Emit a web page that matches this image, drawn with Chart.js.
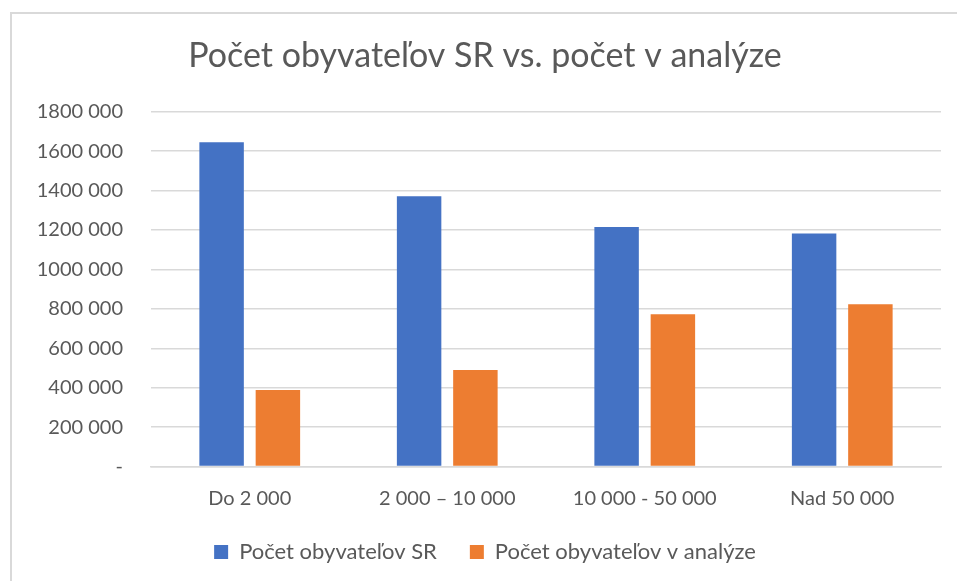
<!DOCTYPE html>
<html>
<head>
<meta charset="utf-8">
<script src="https://cdn.jsdelivr.net/npm/chart.js@4"></script>
<style>
    html, body { margin: 0; padding: 0; background: #fff; overflow: hidden; }
    #box {
        position: absolute; left: 10px; top: 12px; width: 960px; height: 580px;
        border-left: 2px solid #d9d9d9; border-top: 2px solid #d9d9d9;
    }
    #wrap { position: absolute; left: 0; top: 0; width: 945px; height: 567px; }
</style>
</head>
<body>
<div id="box"><div id="wrap"><canvas id="chart"></canvas></div></div>
<script>
const categories = ["Do 2 000", "2 000 – 10 000", "10 000 - 50 000", "Nad 50 000"];
const seriesNames = ["Počet obyvateľov SR", "Počet obyvateľov v analýze"];
const populationSR = [1646000, 1372000, 1216000, 1182000];
const populationAnalysis = [388000, 490000, 773000, 823000];
const yTicks = [0, 200000, 400000, 600000, 800000, 1000000, 1200000, 1400000, 1600000, 1800000];
const yTickLabels = ["-", "200 000", "400 000", "600 000", "800 000", "1000 000", "1200 000", "1400 000", "1600 000", "1800 000"];

const font = "Lato, 'Open Sans', sans-serif";
const grey = "#595959";

document.addEventListener("DOMContentLoaded", () => {
    const ctx = document.getElementById("chart").getContext("2d");

    new Chart(ctx, {
        type: "bar",
        data: {
            labels: categories,
            datasets: [{
                label: seriesNames[0],
                data: populationSR,
                backgroundColor: "#4472c4",
                categoryPercentage: 0.57,
                barPercentage: 0.79
            }, {
                label: seriesNames[1],
                data: populationAnalysis,
                backgroundColor: "#ed7d31",
                categoryPercentage: 0.57,
                barPercentage: 0.79
            }]
        },
        options: {
            responsive: true,
            maintainAspectRatio: false,
            animation: false,
            layout: { padding: { left: 17, right: 16, top: 12, bottom: 8 } },
            scales: {
                x: {
                    grid: { display: false },
                    border: { color: "#d9d9d9", width: 1.5 },
                    ticks: { color: grey, font: { family: font, size: 20 }, padding: 12 },
                    afterFit: axis => { axis.height -= 14.5; }
                },
                y: {
                    min: 0,
                    max: 1800000,
                    afterBuildTicks: axis => { axis.ticks = yTicks.map(v => ({ value: v })); },
                    afterFit: axis => { axis.width = 122; },
                    grid: { color: "#d9d9d9", lineWidth: 1.5, drawTicks: false },
                    border: { display: false },
                    ticks: {
                        color: grey,
                        font: { family: font, size: 20 },
                        padding: 28,
                        callback: value => yTickLabels[yTicks.indexOf(value)]
                    }
                }
            },
            plugins: {
                title: {
                    display: true,
                    text: "Počet obyvateľov SR vs. počet v analýze",
                    color: grey,
                    font: { family: font, size: 34, weight: "normal" },
                    padding: { top: 10, bottom: 35 }
                },
                legend: {
                    position: "bottom",
                    labels: {
                        color: grey,
                        font: { family: font, size: 22 },
                        boxWidth: 14,
                        boxHeight: 14,
                        padding: 33
                    }
                },
                tooltip: { enabled: false }
            }
        }
    });
});
</script>
</body>
</html>
